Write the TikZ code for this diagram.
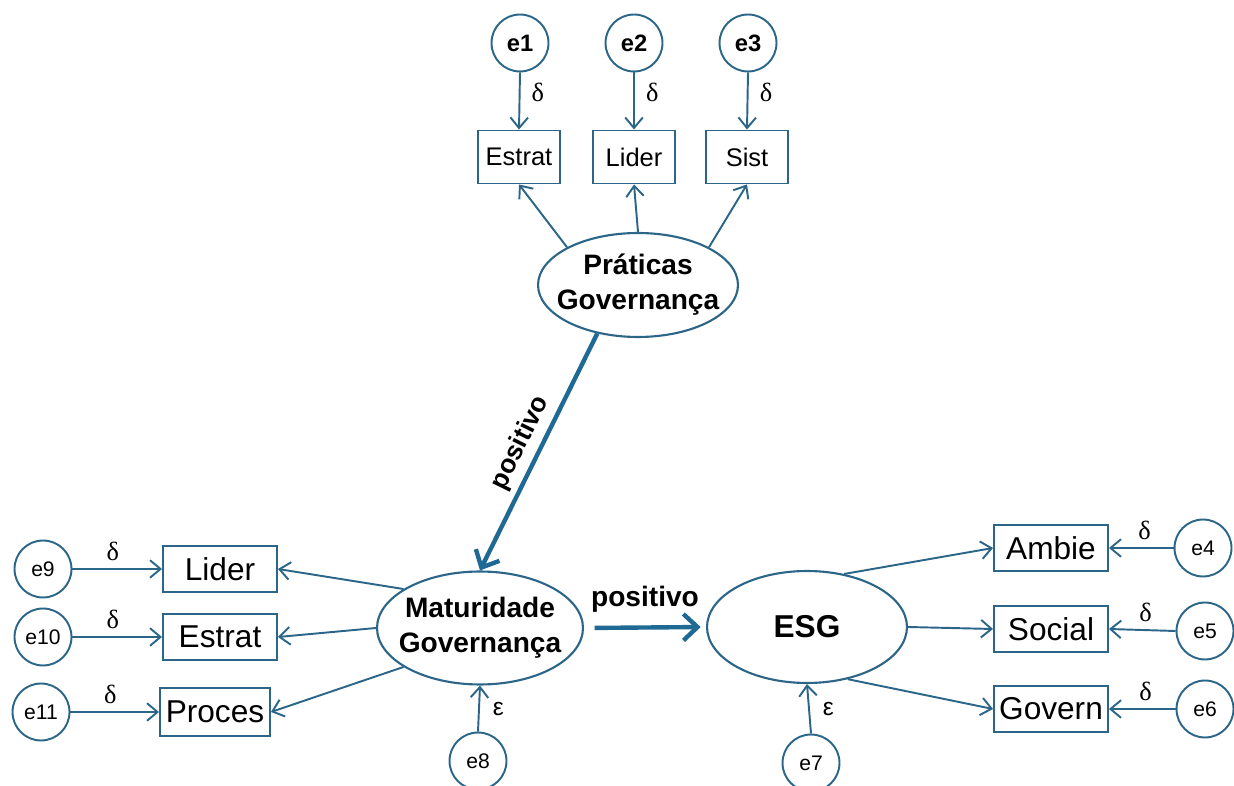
\documentclass[tikz,border=0pt]{standalone}
\usepackage{fontspec}
\setmainfont{Liberation Sans}
\newfontfamily\grkserif{Liberation Serif}
\usepackage{xcolor}
\usetikzlibrary{shapes.geometric,arrows.meta}
\definecolor{semblue}{HTML}{2B6688}
\definecolor{pathblue}{HTML}{1F6A94}

\begin{document}
\begin{tikzpicture}[
  x=0.02cm, y=-0.02cm,
  font=\fontsize{12}{14}\selectfont,
  ind/.style={draw=semblue, line width=1.1pt, inner sep=1pt,
              minimum width=1.64cm, minimum height=1.06cm,
              font=\fontsize{14.5}{16}\selectfont},
  indb/.style={ind, minimum width=2.28cm, minimum height=0.93cm,
               font=\fontsize{18}{20}\selectfont},
  lat/.style={ellipse, draw=semblue, line width=1.2pt, inner xsep=-7pt,
              inner ysep=0pt, align=center,
              font=\bfseries\fontsize{16}{20}\selectfont},
  err/.style={circle, draw=semblue, line width=1.1pt, inner sep=0pt,
              minimum size=1.14cm},
  arr/.style={-{Straight Barb[length=6pt, width=10pt]}, draw=semblue,
              line width=1.1pt},
  reg/.style={-{Straight Barb[length=8pt, width=15pt]}, draw=pathblue,
              line width=2.5pt},
  coef/.style={font=\grkserif\fontsize{15}{16}\selectfont},
  coefe/.style={font=\fontsize{14}{16}\selectfont}]

\useasboundingbox (0,0) rectangle (1234,786);

% latent variables
\node[lat, minimum width=4cm, minimum height=2.08cm] (prat) at (638,285)
  {Práticas\\Governança};
\node[lat, minimum width=4.12cm, minimum height=2.26cm] (mat) at (480,628)
  {Maturidade\\Governança};
\node[lat, minimum width=4cm, minimum height=2.24cm,
      font=\bfseries\fontsize{18}{20}\selectfont] (esg) at (807,627) {ESG};

% indicators
\node[ind] (estP) at (519,157) {Estrat};
\node[ind] (lidP) at (634,157) {Lider};
\node[ind] (sisP) at (747,157) {Sist};

\node[indb] (lidM) at (220,569) {Lider};
\node[indb] (estM) at (220,637) {Estrat};
\node[indb, minimum width=2.2cm, minimum height=0.97cm] (proM) at (215,712) {Proces};

\node[indb] (amb) at (1051,548) {Ambie};
\node[indb] (soc) at (1051,629) {Social};
\node[indb] (gov) at (1051,709) {Govern};

% error terms
\node[err, font=\bfseries\fontsize{13.5}{14}\selectfont] (e1) at (520,43) {e1};
\node[err, font=\bfseries\fontsize{13.5}{14}\selectfont] (e2) at (634,43) {e2};
\node[err, font=\bfseries\fontsize{13.5}{14}\selectfont] (e3) at (748,43) {e3};
\node[err] (e4) at (1203,548) {e4};
\node[err] (e5) at (1205,631) {e5};
\node[err] (e6) at (1205,709) {e6};
\node[err] (e7) at (811,763) {e7};
\node[err] (e8) at (478,761) {e8};
\node[err] (e9) at (43,569) {e9};
\node[err] (e10) at (43,637) {e10};
\node[err] (e11) at (41,712) {e11};

% measurement paths
\draw[arr] (prat.152) -- (estP.south);
\draw[arr] (prat.north) -- (lidP.south);
\draw[arr] (prat.28) -- (sisP.south);

\draw[arr] (mat.153) -- (lidM.east);
\draw[arr] (mat.west) -- (estM.east);
\draw[arr] (mat.207) -- (proM.east);

\draw[arr] (esg.55) -- (amb.west);
\draw[arr] (esg.east) -- (soc.west);
\draw[arr] (esg.-52) -- (gov.west);

% errors
\foreach \e/\v in {e1/estP,e2/lidP,e3/sisP}
  \draw[arr] (\e.south) -- node[pos=0.35, right=3pt, coef] {δ} (\v.north);
\foreach \e/\v in {e9/lidM,e10/estM,e11/proM}
  \draw[arr] (\e.east) -- node[pos=0.45, above=1pt, coef] {δ} (\v.west);
\foreach \e/\v in {e4/amb,e5/soc,e6/gov}
  \draw[arr] (\e.west) -- node[pos=0.45, above=1pt, coef] {δ} (\v.east);
\draw[arr] (e8.north) -- node[right=4pt, coefe] {ε} (mat.south);
\draw[arr] (e7.north) -- node[right=4pt, coefe] {ε} (esg.south);

% structural paths
\draw[reg] (prat.230) -- node[midway, sloped, above,
  font=\bfseries\fontsize{15}{18}\selectfont] {positivo} (mat.north);
\draw[reg, shorten <=6pt, shorten >=3pt] (mat.east) -- node[midway, above=4pt,
  font=\bfseries\fontsize{16}{18}\selectfont] {positivo} (esg.west);
\end{tikzpicture}
\end{document}
